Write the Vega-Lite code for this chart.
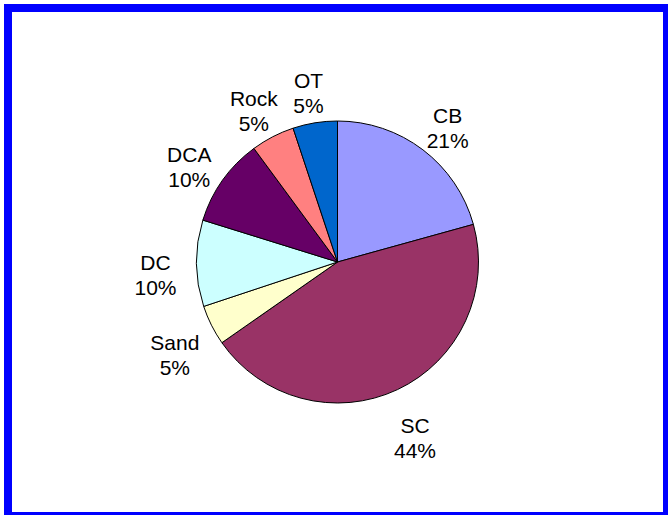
{
  "$schema": "https://vega.github.io/schema/vega-lite/v6.json",
  "width": 659,
  "height": 508,
  "autosize": "none",
  "padding": {"left": 8, "top": 8, "right": 1, "bottom": 0},
  "background": "white",
  "data": {
    "values": [
      {"idx": 1, "name": "CB", "value": 20.7, "pct": "21%"},
      {"idx": 2, "name": "SC", "value": 44.6, "pct": "44%"},
      {"idx": 3, "name": "Sand", "value": 4.6, "pct": "5%"},
      {"idx": 4, "name": "DC", "value": 9.9, "pct": "10%"},
      {"idx": 5, "name": "DCA", "value": 10.1, "pct": "10%"},
      {"idx": 6, "name": "Rock", "value": 5.0, "pct": "5%"},
      {"idx": 7, "name": "OT", "value": 5.1, "pct": "5%"}
    ]
  },
  "layer": [
    {
      "data": {"values": [{"frame": 1}]},
      "mark": {"type": "rect", "fill": null, "stroke": "#0000FF", "strokeWidth": 8},
      "encoding": {}
    },
    {
      "mark": {"type": "arc", "outerRadius": 141, "stroke": "black", "strokeWidth": 1},
      "encoding": {
        "theta": {"field": "value", "type": "quantitative", "stack": true},
        "order": {"field": "idx", "type": "quantitative", "sort": "ascending"},
        "color": {
          "field": "name",
          "type": "nominal",
          "scale": {
            "domain": ["CB", "SC", "Sand", "DC", "DCA", "Rock", "OT"],
            "range": ["#9999FF", "#993366", "#FFFFCC", "#CCFFFF", "#660066", "#FF8080", "#0066CC"]
          },
          "legend": null
        }
      }
    },
    {
      "transform": [{"calculate": "[datum.name, datum.pct]", "as": "label"}],
      "mark": {"type": "text", "radius": 182, "font": "Liberation Sans", "fontSize": 21, "lineHeight": 25, "color": "black", "baseline": "middle", "align": "center"},
      "encoding": {
        "theta": {"field": "value", "type": "quantitative", "stack": true},
        "order": {"field": "idx", "type": "quantitative", "sort": "ascending"},
        "text": {"field": "label"}
      }
    }
  ]
}
